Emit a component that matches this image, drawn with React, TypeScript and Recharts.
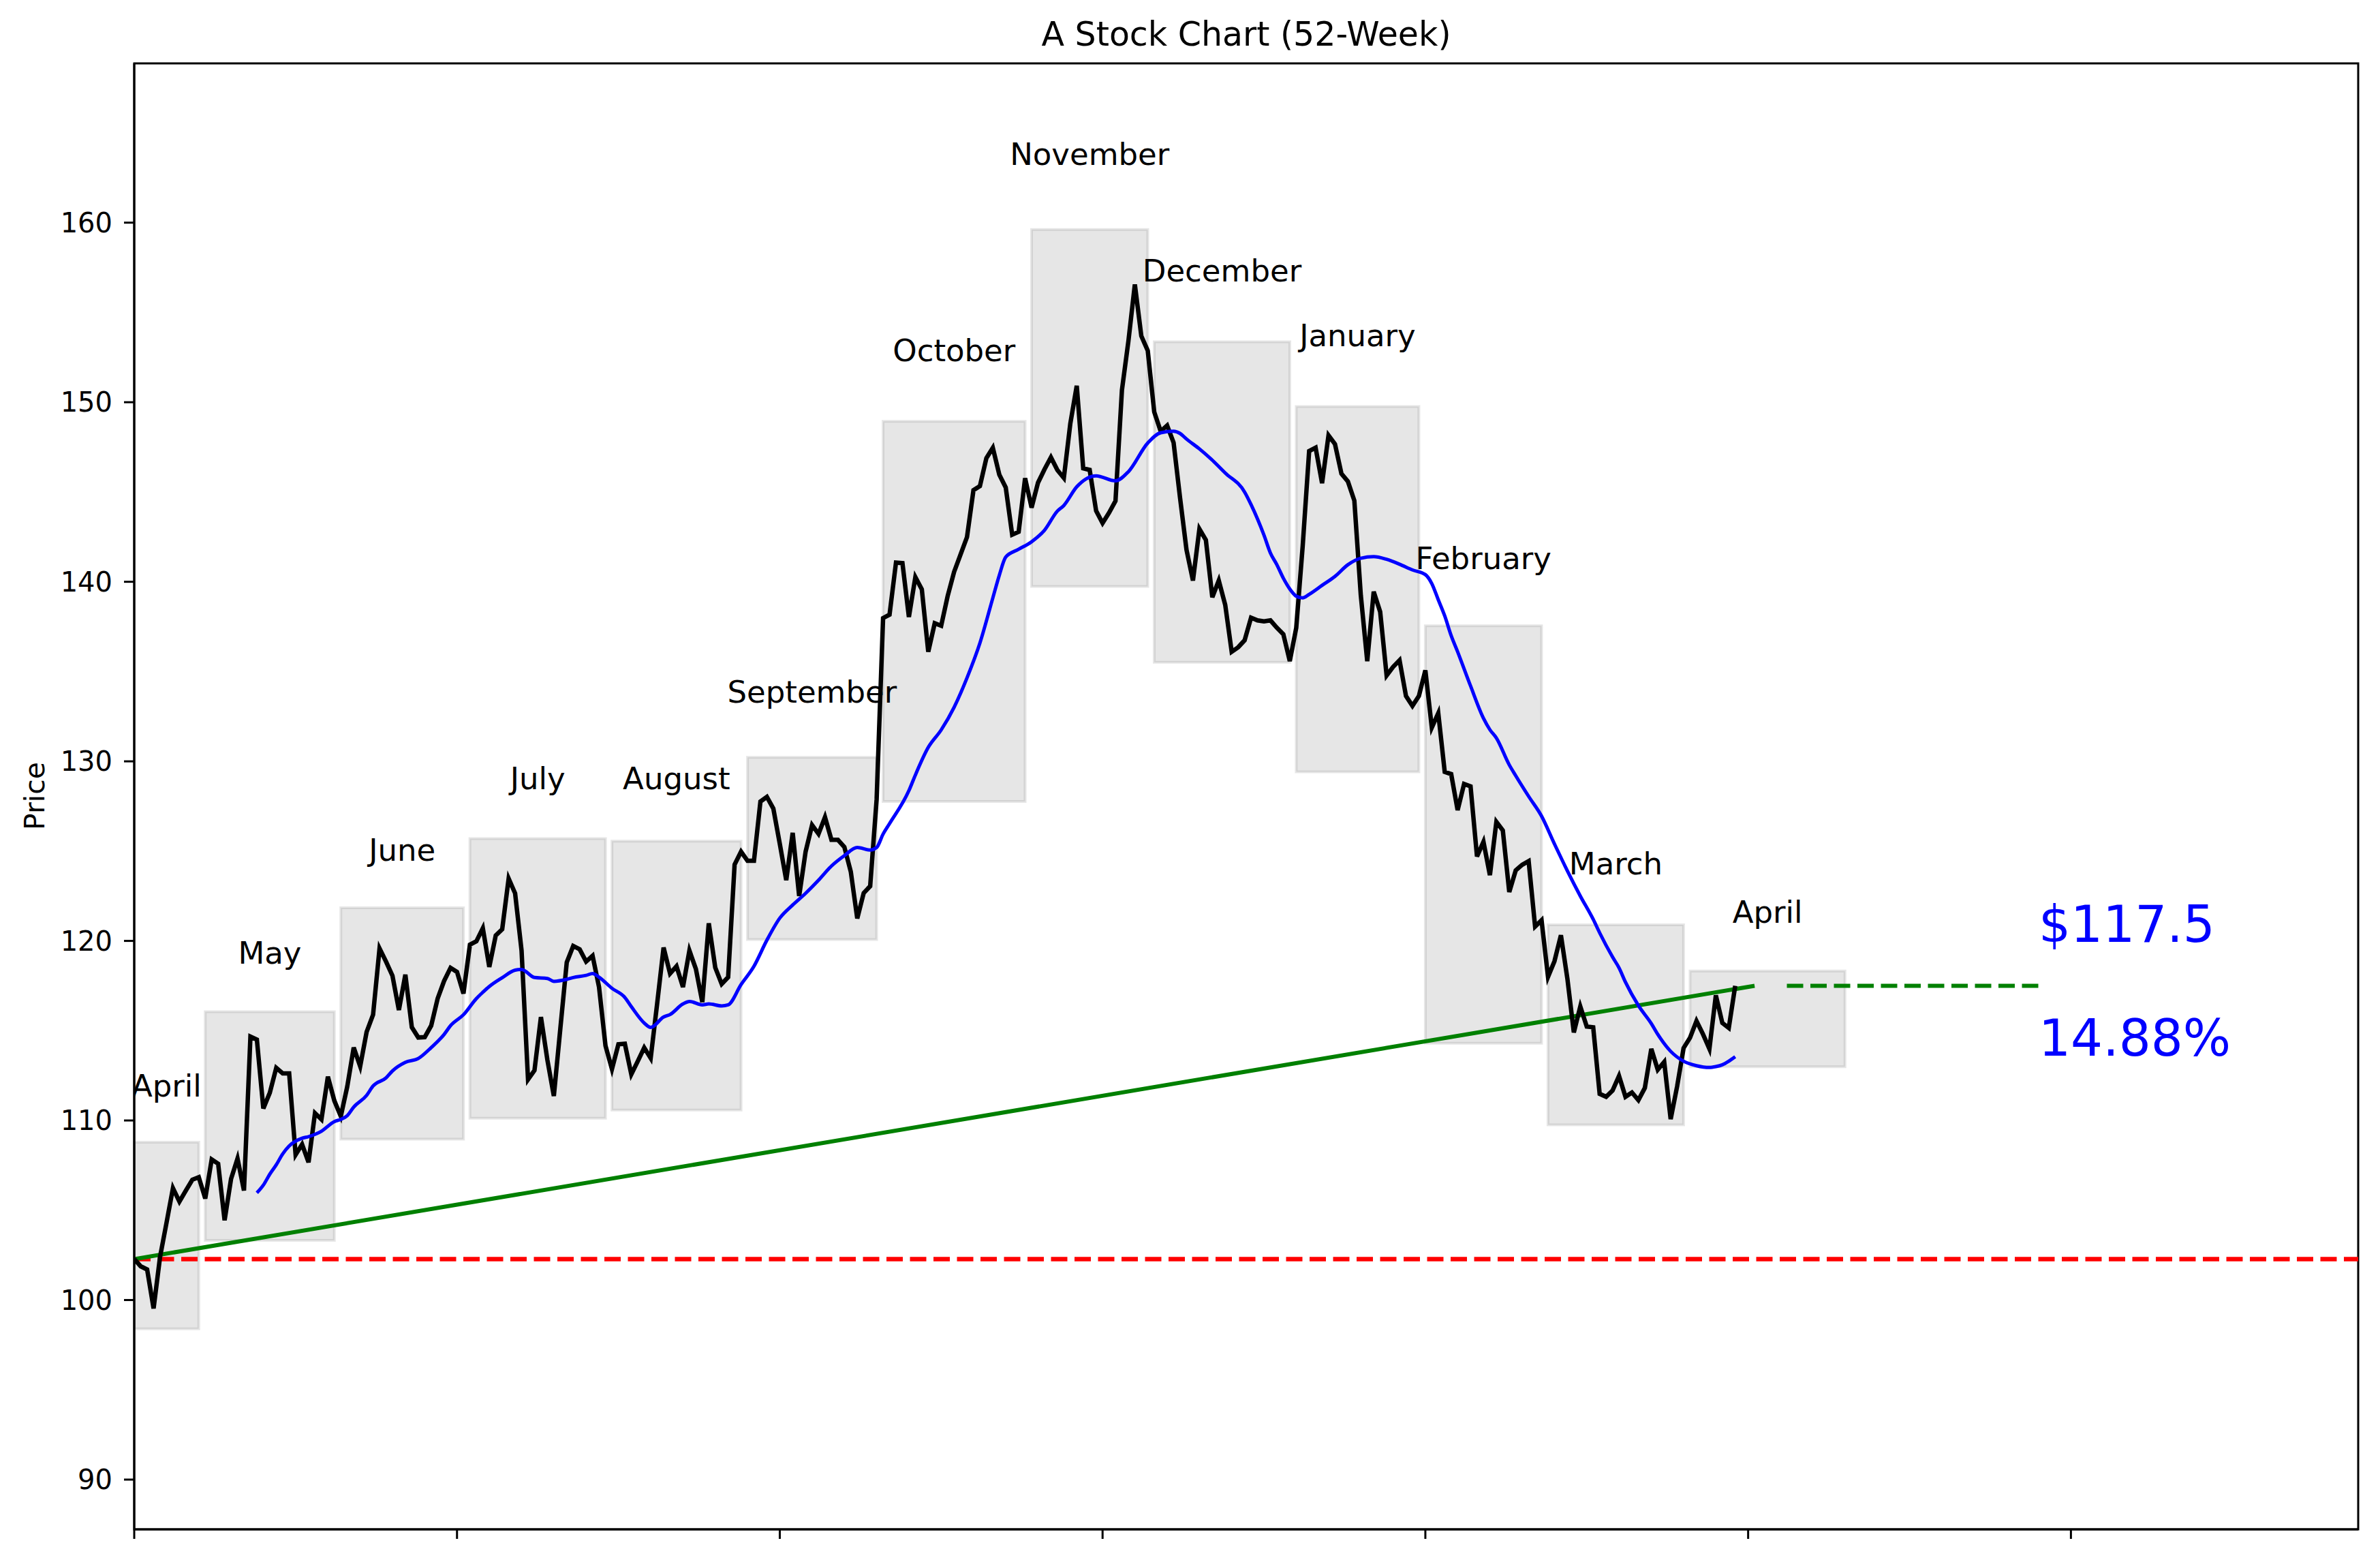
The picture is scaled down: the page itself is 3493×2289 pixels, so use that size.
import React from 'react';
import {
  ComposedChart,
  Line,
  Scatter,
  XAxis,
  YAxis,
  ReferenceArea,
  ReferenceLine,
} from 'recharts';

// daily close, one value per trading day (index = day number)
const closePrices = [
  102.28, 101.88, 101.7, 99.53, 102.4, 104.3, 106.23, 105.48, 106.1, 106.7,
  106.84, 105.65, 107.83, 107.59, 104.44, 106.75, 107.88, 106.1, 114.67, 114.5,
  110.67, 111.54, 112.93, 112.62, 112.62, 108.09, 108.67, 107.67, 110.41, 110.06,
  112.44, 111.1, 110.23, 111.89, 114.06, 113.02, 114.93, 115.89, 119.58, 118.85,
  118.06, 116.15, 118.12, 115.19, 114.62, 114.64, 115.28, 116.79, 117.77, 118.5,
  118.27, 117.07, 119.79, 119.98, 120.71, 118.55, 120.3, 120.65, 123.47, 122.65,
  119.46, 112.28, 112.79, 115.76, 113.37, 111.36, 115.1, 118.81, 119.72, 119.53,
  118.85, 119.17, 117.43, 114.16, 112.86, 114.24, 114.27, 112.57, 113.3, 114.05,
  113.47, 116.5, 119.63, 118.18, 118.59, 117.43, 119.46, 118.44, 116.59, 120.98,
  118.52, 117.6, 117.98, 124.25, 124.97, 124.46, 124.46, 127.76, 128.02, 127.37,
  125.41, 123.38, 126.02, 122.5, 124.97, 126.45, 125.96, 126.89, 125.63, 125.63,
  125.23, 123.85, 121.25, 122.67, 123.05, 127.88, 137.98, 138.17, 141.07, 141.04,
  138.04, 140.26, 139.58, 136.1, 137.69, 137.55, 139.2, 140.55, 141.52, 142.49,
  145.1, 145.33, 146.88, 147.46, 145.97, 145.25, 142.62, 142.78, 145.77, 144.13,
  145.52, 146.26, 146.93, 146.22, 145.78, 148.8, 150.92, 146.32, 146.23, 143.95,
  143.27, 143.84, 144.5, 150.68, 153.4, 156.56, 153.69, 152.87, 149.46, 148.38,
  148.7, 147.75, 144.68, 141.78, 140.07, 142.94, 142.33, 139.14, 140.07, 138.71,
  136.1, 136.35, 136.74, 138.0, 137.85, 137.8, 137.85, 137.44, 137.08, 135.58,
  137.44, 142.0, 147.28, 147.47, 145.49, 148.15, 147.67, 146.02, 145.59, 144.52,
  139.25, 135.58, 139.45, 138.33, 134.78, 135.26, 135.63, 133.64, 133.09, 133.64,
  135.07, 131.88, 132.68, 129.41, 129.29, 127.28, 128.74, 128.61, 124.7, 125.52,
  123.66, 126.63, 126.15, 122.72, 123.93, 124.24, 124.44, 120.8, 121.15, 118.0,
  118.87, 120.32, 117.9, 114.9, 116.35, 115.23, 115.19, 111.48, 111.32, 111.67,
  112.48, 111.32, 111.56, 111.13, 111.81, 113.99, 112.83, 113.26, 110.07, 111.9,
  114.03, 114.61, 115.54, 114.81, 113.99, 116.97, 115.43, 115.15, 117.5,
];

// moving average (blue)
const maDays = [
  19, 20, 21, 22, 23, 24, 26, 27, 29, 31, 32, 33, 34, 36, 37, 39, 40, 42, 44, 46,
  48, 49, 51, 53, 54, 55, 57, 59, 60, 62, 64, 65, 67, 68, 70, 71, 72, 74, 76, 77,
  79, 80, 82, 83, 85, 86, 88, 89, 91, 92, 94, 96, 98, 100, 102, 104, 106, 108, 110, 112,
  114, 115, 116, 117, 120, 121, 123, 125, 127, 129, 131, 133, 134, 135, 137, 139, 141, 143, 144, 146,
  149, 152, 154, 157, 159, 161, 162, 163, 165, 167, 169, 172, 173, 174, 175, 176, 177, 178, 179, 180,
  181, 182, 184, 186, 188, 190, 192, 194, 196, 198, 200, 201, 202, 203, 204, 205, 207, 209, 210, 211,
  213, 214, 216, 218, 220, 222, 224, 226, 227, 229, 230, 231, 233, 235, 236, 238, 240, 242, 244, 245,
  246, 247, 248,
];
const maValues = [
  105.97, 106.4, 107.01, 107.53, 108.14, 108.58, 109.01, 109.1, 109.4, 109.94, 110.06, 110.27, 110.75, 111.4, 111.92, 112.37, 112.76, 113.24, 113.45, 114.06,
  114.79, 115.28, 115.89, 116.79, 117.14, 117.46, 117.95, 118.37, 118.41, 117.96, 117.91, 117.75, 117.86, 117.96, 118.08, 118.18, 117.98, 117.36, 116.85, 116.34,
  115.43, 115.18, 115.76, 115.9, 116.49, 116.63, 116.44, 116.49, 116.38, 116.44, 117.57, 118.59, 120.04, 121.27, 122.0, 122.65, 123.38, 124.17, 124.75, 125.2,
  125.06, 125.2, 125.95, 126.53, 128.37, 129.24, 130.78, 131.75, 133.01, 134.65, 136.59, 139.1, 140.36, 141.38, 141.81, 142.23, 142.87, 143.94, 144.25, 145.29,
  145.9, 145.62, 146.13, 147.73, 148.3, 148.38, 148.26, 147.95, 147.4, 146.77, 146.06, 145.0, 144.3, 143.5, 142.6, 141.6, 140.95, 140.2, 139.6, 139.2,
  139.1, 139.3, 139.8, 140.3, 140.95, 141.31, 141.4, 141.25, 140.98, 140.66, 140.4, 139.9, 139.0, 138.1, 137.0, 136.1, 134.2, 132.4, 131.76, 131.3,
  129.8, 129.2, 128.05, 126.95, 125.4, 123.9, 122.5, 121.2, 120.45, 119.1, 118.5, 117.7, 116.4, 115.4, 114.8, 113.85, 113.3, 113.05, 112.95, 113.0,
  113.1, 113.3, 113.55,
];

// monthly boxes
const monthNames = [
  'April', 'May', 'June', 'July', 'August', 'September', 'October',
  'November', 'December', 'January', 'February', 'March', 'April',
];
const monthStart = [0, 11, 32, 52, 74, 95, 116, 139, 158, 180, 200, 219, 241];
const monthEnd = [10, 31, 51, 73, 94, 115, 138, 157, 179, 199, 218, 240, 265];
const boxLow = [98.4, 103.32, 108.96, 110.13, 110.58, 120.08, 127.77, 139.74, 135.52, 129.42, 114.3, 109.76, 112.99];
const boxHigh = [108.79, 116.06, 121.84, 125.7, 125.55, 130.22, 148.93, 159.62, 153.37, 149.76, 137.55, 120.9, 118.32];
const labelBaseline = [111.35, 118.75, 124.45, 128.45, 128.43, 133.25, 152.28, 163.22, 156.72, 153.12, 140.7, 123.7, 121.0];

// trend from first to last close, and the last-price marker
const startPrice = 102.28;
const trendDays = [0, 251];
const trendPrices = [102.28, 117.5];
const targetDays = [256, 295];
const targetPrice = 117.5;
const annotationTexts = ['$117.5', '14.88%'];
const annotationDay = 295;
const annotationBaseline = [119.95, 113.6];

const xTicks = [0, 50, 100, 150, 200, 250, 300];
const yTicks = [90, 100, 110, 120, 130, 140, 150, 160];

const FONT = 'DejaVu Sans';

const priceData = closePrices.map((p, i) => ({ x: i, y: p }));
const maData = maDays.map((d, i) => ({ x: d, y: maValues[i] }));
const trendData = trendDays.map((d, i) => ({ x: d, y: trendPrices[i] }));
const targetData = targetDays.map((d) => ({ x: d, y: targetPrice }));
const monthLabelData = monthNames.map((name, i) => ({
  x: (monthStart[i] + monthEnd[i]) / 2,
  y: labelBaseline[i],
  name,
}));
const annotationData = annotationTexts.map((name, i) => ({
  x: annotationDay,
  y: annotationBaseline[i],
  name,
}));

const MonthLabel = (props: any) => (
  <text x={props.cx} y={props.cy} textAnchor="middle" fontSize={45} fontFamily={FONT} fill="#000">
    {props.payload.name}
  </text>
);

const BigLabel = (props: any) => (
  <text x={props.cx} y={props.cy} textAnchor="start" fontSize={74} fontFamily={FONT} fill="#0000ff">
    {props.payload.name}
  </text>
);

const tickStyle = { fill: '#000', fontSize: 40, fontFamily: FONT };

export default function App() {
  return (
    <div style={{ position: 'absolute', left: 0, top: 0, width: 3493, height: 2289, background: '#fff', fontFamily: FONT }}>
      <div
        style={{
          position: 'absolute', left: 829, width: 2000, top: 26, textAlign: 'center',
          fontSize: 49, lineHeight: '49px', color: '#000',
        }}
      >
        A Stock Chart (52-Week)
      </div>
      <div
        style={{
          position: 'absolute', left: 51, top: 1168, fontSize: 41, lineHeight: '41px', color: '#000',
          transform: 'translate(-50%, -50%) rotate(-90deg)', whiteSpace: 'nowrap',
        }}
      >
        Price
      </div>
      <ComposedChart width={3493} height={2289} margin={{ top: 93, right: 32, bottom: 0, left: 0 }}>
        {monthNames.map((m, i) => (
          <ReferenceArea
            key={`box-${i}`}
            x1={monthStart[i]}
            x2={monthEnd[i]}
            y1={boxLow[i]}
            y2={boxHigh[i]}
            fill="#808080"
            fillOpacity={0.2}
            stroke="#808080"
            strokeOpacity={0.2}
            strokeWidth={4}
            ifOverflow="visible"
          />
        ))}
        <XAxis
          dataKey="x"
          type="number"
          domain={[0, 344.5]}
          allowDataOverflow
          ticks={xTicks}
          tickFormatter={() => ''}
          height={45}
          tickSize={14}
          axisLine={{ stroke: '#000', strokeWidth: 3 }}
          tickLine={{ stroke: '#000', strokeWidth: 3 }}
          tick={tickStyle}
        />
        <YAxis
          type="number"
          domain={[87.23, 168.87]}
          allowDataOverflow
          ticks={yTicks}
          width={197}
          tickSize={15}
          tickMargin={17}
          axisLine={{ stroke: '#000', strokeWidth: 3 }}
          tickLine={{ stroke: '#000', strokeWidth: 3 }}
          tick={tickStyle}
        />
        <ReferenceLine y={startPrice} stroke="#ff0000" strokeWidth={6.5} strokeDasharray="24 10.5" />
        <Line
          data={trendData}
          dataKey="y"
          type="linear"
          stroke="#008000"
          strokeWidth={6}
          dot={false}
          isAnimationActive={false}
        />
        <Line
          data={priceData}
          dataKey="y"
          type="linear"
          stroke="#000"
          strokeWidth={6.5}
          dot={false}
          isAnimationActive={false}
        />
        <Line
          data={maData}
          dataKey="y"
          type="monotone"
          stroke="#0000ff"
          strokeWidth={5}
          dot={false}
          isAnimationActive={false}
        />
        <Line
          data={targetData}
          dataKey="y"
          type="linear"
          stroke="#008000"
          strokeWidth={6}
          strokeDasharray="24 10.5"
          dot={false}
          isAnimationActive={false}
        />
        <Scatter data={monthLabelData} dataKey="y" shape={MonthLabel} isAnimationActive={false} />
        <Scatter data={annotationData} dataKey="y" shape={BigLabel} isAnimationActive={false} />
        <ReferenceArea
          x1={0}
          x2={344.5}
          y1={87.23}
          y2={168.87}
          fill="none"
          stroke="#000"
          strokeWidth={3}
          ifOverflow="visible"
        />
      </ComposedChart>
    </div>
  );
}
